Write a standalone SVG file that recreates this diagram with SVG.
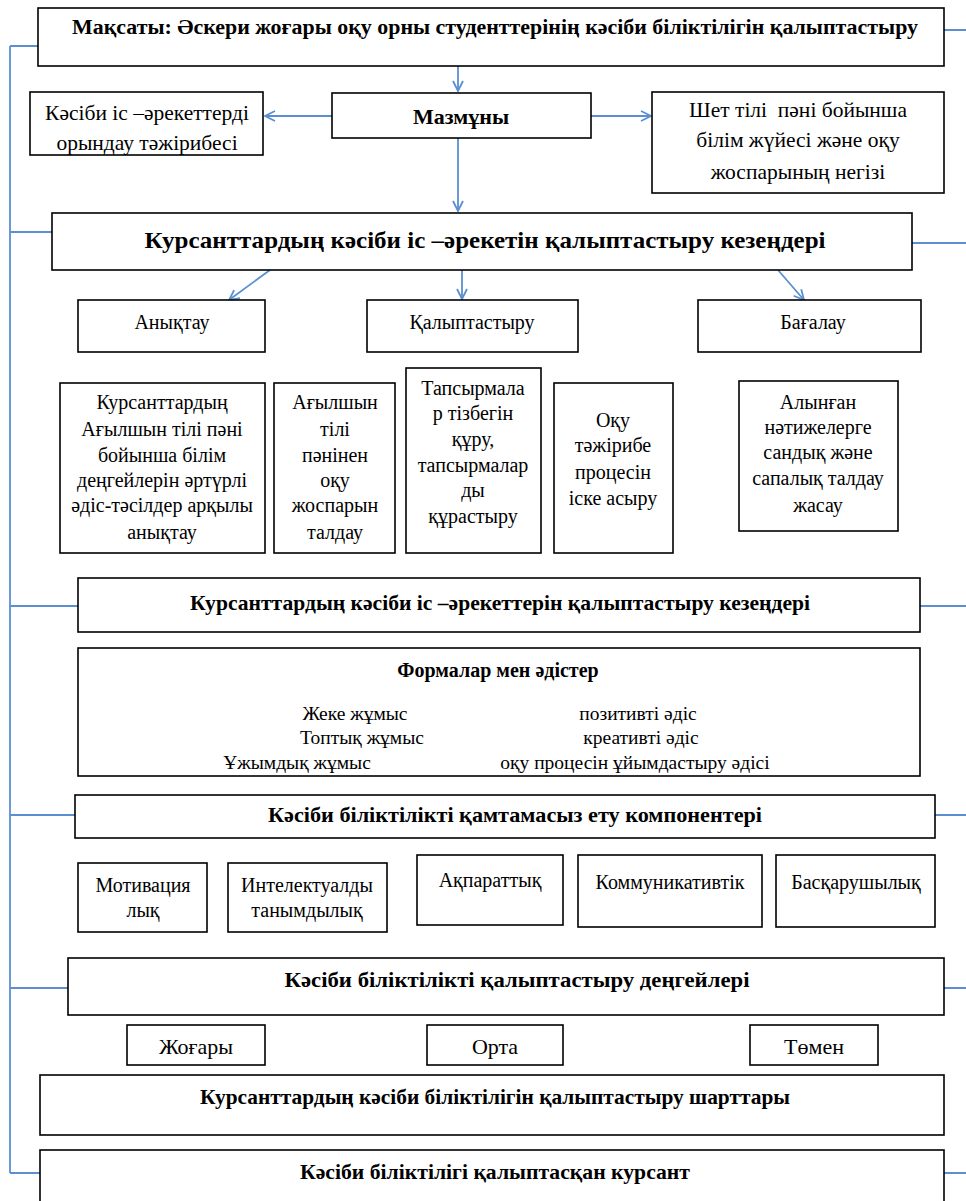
<svg xmlns="http://www.w3.org/2000/svg" width="966" height="1201" viewBox="0 0 966 1201">
<defs>
<marker id="arr" viewBox="0 0 12 12" refX="11" refY="6" markerWidth="12" markerHeight="12" markerUnits="userSpaceOnUse" orient="auto">
<path d="M1,1 L11,6 L1,11" fill="none" stroke="#5b8fd2" stroke-width="1.8"/>
</marker>
<style>
.box{fill:#fff;stroke:#000;stroke-width:1.6}
text{fill:#000;text-anchor:middle}
.t{font-size:20px}
.tl{font-size:21.5px}
.tf{font-size:19.5px}
.tx{font-size:22px}
.b{font-weight:bold;font-size:22px}
.c{stroke:#5b8fd2;stroke-width:1.8;fill:none}
.a{marker-end:url(#arr)}
</style>
</defs>
<rect width="966" height="1201" fill="#fff"/>
<g id="connectors">
<path class="c" d="M10,46 V1173"/>
<path class="c" d="M10,46 H38 M10,232 H52 M10,606 H78 M10,815 H75 M10,988 H68 M10,1173 H40"/>
<path class="c" d="M944,30 H966 M912,243 H966 M920,606 H966 M935,815 H966 M944,988 H966 M944,1173 H966"/>
<path class="c a" d="M458,66 V91"/>
<path class="c a" d="M332,116 H265"/>
<path class="c a" d="M591,116 H651"/>
<path class="c a" d="M458,138 V211"/>
<path class="c a" d="M270,270 L229,300"/>
<path class="c a" d="M462,270 V299"/>
<path class="c a" d="M778,270 L804,300"/>
</g>
<g font-family="Liberation Serif, Times New Roman, serif">
<g id="n1"><rect class="box" x="38" y="8" width="906" height="58"/><text class="b" x="495" y="34" style="font-size:20px" textLength="846" lengthAdjust="spacingAndGlyphs">Мақсаты: Әскери жоғары оқу орны студенттерінің кәсіби біліктілігін қалыптастыру</text></g>
<g id="n2"><rect class="box" x="30" y="92" width="233" height="63"/><text class="tl" x="147" y="120">Кәсіби іс –әрекеттерді</text><text class="tl" x="147" y="150">орындау тәжірибесі</text></g>
<g id="n3"><rect class="box" x="332" y="93" width="259" height="45"/><text class="b" x="461" y="124">Мазмұны</text></g>
<g id="n4"><rect class="box" x="652" y="92" width="292" height="101"/><text class="tl" x="798" y="117" xml:space="preserve">Шет тілі  пәні бойынша</text><text class="tl" x="798" y="147">білім жүйесі және оқу</text><text class="tl" x="798" y="179">жоспарының негізі</text></g>
<g id="n5"><rect class="box" x="52" y="213" width="860" height="57"/><text class="b" x="485" y="248" style="font-size:23px" textLength="681" lengthAdjust="spacingAndGlyphs">Курсанттардың кәсіби іс –әрекетін қалыптастыру кезеңдері</text></g>
<g id="n6"><rect class="box" x="78" y="300" width="187" height="52"/><text class="t" x="172" y="329">Анықтау</text></g>
<g id="n7"><rect class="box" x="367" y="300" width="211" height="52"/><text class="t" x="472" y="329">Қалыптастыру</text></g>
<g id="n8"><rect class="box" x="698" y="300" width="223" height="52"/><text class="t" x="813" y="329">Бағалау</text></g>
<g id="n9"><rect class="box" x="60" y="383" width="205" height="170"/><text class="t" x="162" y="409">Курсанттардың</text><text class="t" x="162" y="436">Ағылшын тілі пәні</text><text class="t" x="162" y="462">бойынша білім</text><text class="t" x="162" y="487">деңгейлерін әртүрлі</text><text class="t" x="162" y="512">әдіс-тәсілдер арқылы</text><text class="t" x="162" y="539">анықтау</text></g>
<g id="n10"><rect class="box" x="274" y="383" width="121" height="170"/><text class="t" x="335" y="409">Ағылшын</text><text class="t" x="335" y="436">тілі</text><text class="t" x="335" y="462">пәнінен</text><text class="t" x="335" y="487">оқу</text><text class="t" x="335" y="512">жоспарын</text><text class="t" x="335" y="539">талдау</text></g>
<g id="n11"><rect class="box" x="406" y="368" width="135" height="185"/><text class="t" x="473" y="395">Тапсырмала</text><text class="t" x="473" y="420">р тізбегін</text><text class="t" x="473" y="446">құру,</text><text class="t" x="473" y="472">тапсырмалар</text><text class="t" x="473" y="497">ды</text><text class="t" x="473" y="523">құрастыру</text></g>
<g id="n12"><rect class="box" x="554" y="383" width="119" height="170"/><text class="t" x="613" y="427">Оқу</text><text class="t" x="613" y="452">тәжірибе</text><text class="t" x="613" y="479">процесін</text><text class="t" x="613" y="505">іске асыру</text></g>
<g id="n13"><rect class="box" x="739" y="381" width="159" height="150"/><text class="t" x="818" y="409">Алынған</text><text class="t" x="818" y="434">нәтижелерге</text><text class="t" x="818" y="459">сандық және</text><text class="t" x="818" y="485">сапалық талдау</text><text class="t" x="818" y="512">жасау</text></g>
<g id="n14"><rect class="box" x="78" y="578" width="842" height="54"/><text class="b" x="500" y="610" style="font-size:21px" textLength="620" lengthAdjust="spacingAndGlyphs">Курсанттардың кәсіби іс –әрекеттерін қалыптастыру кезеңдері</text></g>
<g id="n15"><rect class="box" x="78" y="648" width="842" height="128"/><text class="b" x="498" y="677" style="font-size:20px">Формалар мен әдістер</text><text class="tf" x="355" y="720">Жеке жұмыс</text><text class="tf" x="638" y="720">позитивті әдіс</text><text class="tf" x="362" y="744">Топтық жұмыс</text><text class="tf" x="641" y="744">креативті әдіс</text><text class="tf" x="297" y="769">Ұжымдық жұмыс</text><text class="tf" x="635" y="769">оқу процесін ұйымдастыру әдісі</text></g>
<g id="n16"><rect class="box" x="75" y="795" width="860" height="43"/><text class="b" x="515" y="822" textLength="494" lengthAdjust="spacingAndGlyphs">Кәсіби біліктілікті қамтамасыз ету компонентері</text></g>
<g id="n17"><rect class="box" x="78" y="863" width="129" height="69"/><text class="t" x="143" y="892">Мотивация</text><text class="t" x="143" y="917">лық</text></g>
<g id="n18"><rect class="box" x="228" y="863" width="159" height="69"/><text class="t" x="307" y="892">Интелектуалды</text><text class="t" x="307" y="917">танымдылық</text></g>
<g id="n19"><rect class="box" x="417" y="855" width="146" height="70"/><text class="t" x="490" y="887">Ақпараттық</text></g>
<g id="n20"><rect class="box" x="578" y="855" width="184" height="72"/><text class="t" x="670" y="889">Коммуникативтік</text></g>
<g id="n21"><rect class="box" x="776" y="855" width="159" height="72"/><text class="t" x="856" y="889">Басқарушылық</text></g>
<g id="n22"><rect class="box" x="68" y="958" width="876" height="57"/><text class="b" x="517" y="987" textLength="465" lengthAdjust="spacingAndGlyphs">Кәсіби біліктілікті қалыптастыру деңгейлері</text></g>
<g id="n23"><rect class="box" x="127" y="1025" width="138" height="40"/><text class="tx" x="196" y="1054">Жоғары</text></g>
<g id="n24"><rect class="box" x="427" y="1025" width="136" height="40"/><text class="tx" x="495" y="1054">Орта</text></g>
<g id="n25"><rect class="box" x="750" y="1025" width="128" height="40"/><text class="tx" x="814" y="1054">Төмен</text></g>
<g id="n26"><rect class="box" x="40" y="1075" width="904" height="60"/><text class="b" x="495" y="1104" textLength="590" lengthAdjust="spacingAndGlyphs">Курсанттардың кәсіби біліктілігін қалыптастыру шарттары</text></g>
<g id="n27"><rect class="box" x="40" y="1150" width="904" height="60"/><text class="b" x="495" y="1179" textLength="390" lengthAdjust="spacingAndGlyphs">Кәсіби біліктілігі қалыптасқан курсант</text></g>
</g>
</svg>
